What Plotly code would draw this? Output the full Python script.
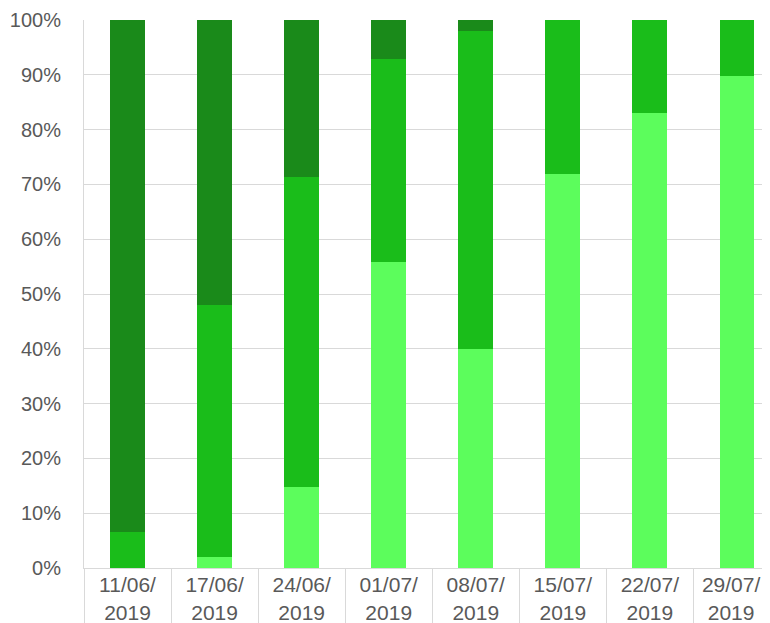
import plotly.graph_objects as go

NB = "\u00a0"
categories = ["11/06/<br>2019", "17/06/<br>2019", "24/06/<br>2019", "01/07/<br>2019",
              "08/07/<br>2019", "15/07/<br>2019", "22/07/<br>2019",
              "29/07/" + NB * 2 + "<br>2019" + NB * 2]
light_vals = [0, 2, 14.8, 55.8, 40, 71.9, 83, 89.8]
medium_vals = [6.6, 46, 56.6, 37.1, 58, 28.1, 17, 10.2]
dark_vals = [93.4, 52, 28.6, 7.1, 2, 0, 0, 0]
y_ticks = [0, 10, 20, 30, 40, 50, 60, 70, 80, 90, 100]

fig = go.Figure()
for name, vals, color in [("Light", light_vals, "#5cfd5c"),
                          ("Medium", medium_vals, "#1abd1a"),
                          ("Dark", dark_vals, "#1a8a1a")]:
    fig.add_trace(go.Bar(x=categories, y=vals, name=name, marker_color=color,
                         marker_line_width=0, width=0.4))

fig.update_layout(
    barmode="stack",
    width=762, height=615,
    margin=dict(l=76, r=0, t=12, b=55, autoexpand=False),
    plot_bgcolor="white", paper_bgcolor="white",
    showlegend=False,
    font=dict(family="Liberation Sans, Arial, sans-serif", size=20, color="#595959"),
)
fig.update_xaxes(
    range=[-0.5, 7.38],
    automargin=False,
    ticklabeloverflow="allow",
    ticklabelstandoff=-2,
    showline=True, linecolor="#d9d9d9", linewidth=1,
    ticks="outside", tickson="boundaries", ticklen=56, tickcolor="#d9d9d9", tickwidth=1,
    tickfont=dict(size=21),
    showgrid=False,
)
fig.update_yaxes(
    range=[0, 100],
    automargin=False,
    tickvals=y_ticks, ticktext=[f"{v}%" for v in y_ticks],
    tickfont=dict(size=20),
    showgrid=True, gridcolor="#d9d9d9", gridwidth=1,
    showline=True, linecolor="#d9d9d9", linewidth=1,
    ticks="outside", ticklen=18, tickcolor="rgba(0,0,0,0)",
    zeroline=False,
)

fig.write_html("out.html")
